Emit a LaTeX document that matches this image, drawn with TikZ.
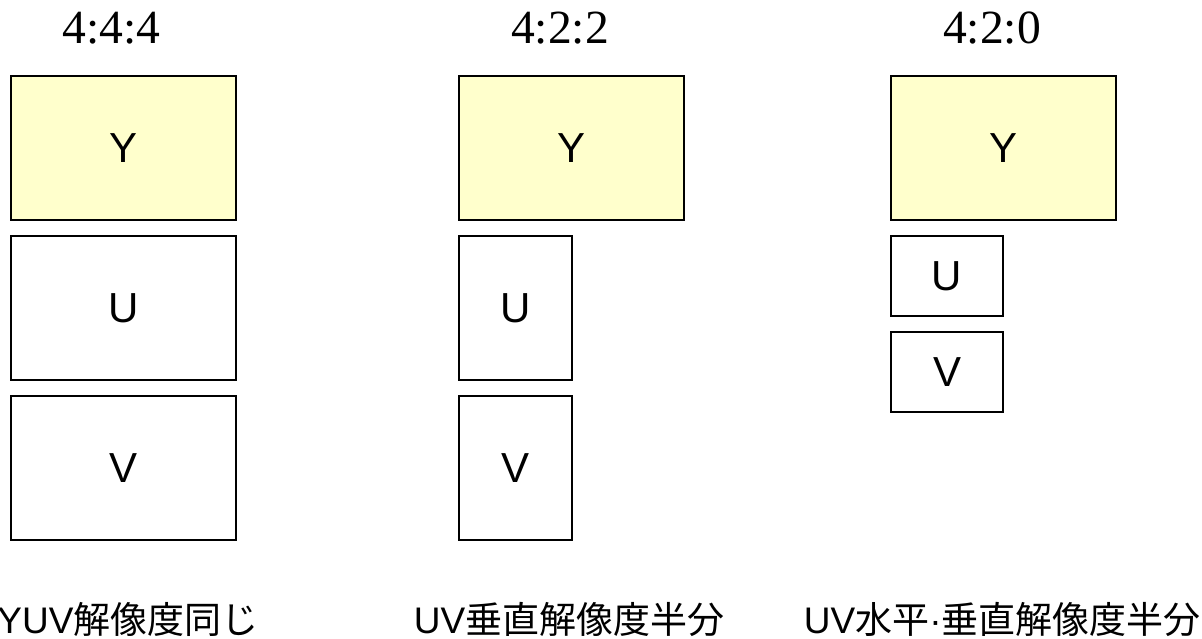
\documentclass[tikz,border=0pt]{standalone}
\usepackage{fontspec}
\setmainfont{Liberation Sans}
\newfontfamily\titlefont{Liberation Serif}
\newfontfamily\cjk{Noto Sans CJK JP}
\usetikzlibrary{positioning}

\definecolor{lumafill}{HTML}{FFFFCC}

\begin{document}
\begin{tikzpicture}[x=0.5pt, y=-0.5pt,
    plane/.style={draw=black, line width=1pt, inner sep=0pt, font=\fontsize{21}{25}\selectfont},
    luma/.style={plane, fill=lumafill},
    full/.style={minimum width=112.5pt, minimum height=72pt},
    halfw/.style={minimum width=56.25pt, minimum height=72pt},
    quarter/.style={minimum width=56pt, minimum height=40pt},
    ratio/.style={anchor=base, font=\titlefont\fontsize{23.8}{28}\selectfont},
    caption/.style={anchor=base, inner sep=0pt, font=\fontsize{18.5}{22}\selectfont}]
    \useasboundingbox (0,0) rectangle (1202,638);

    % 4:4:4
    \node[ratio] (t444) at (111.5,43) {4:4:4};
    \node[luma, full] (y444) at (123.5,148) {Y};
    \node[plane, full] (u444) at (123.5,308) {U};
    \node[plane, full] (v444) at (123.5,468) {V};
    \node[caption, anchor=base west] (c444) at (-3,633) {YUV{\cjk 解像度同じ}};

    % 4:2:2
    \node[ratio] (t422) at (560,43) {4:2:2};
    \node[luma, full] (y422) at (571.5,148) {Y};
    \node[plane, halfw] (u422) at (515.5,308) {U};
    \node[plane, halfw] (v422) at (515.5,468) {V};
    \node[caption] (c422) at (569,633) {UV{\cjk 垂直解像度半分}};

    % 4:2:0
    \node[ratio] (t420) at (992,43) {4:2:0};
    \node[luma, full] (y420) at (1003.5,148) {Y};
    \node[plane, quarter] (u420) at (947,276) {U};
    \node[plane, quarter] (v420) at (947,372) {V};
    \node[caption, anchor=base east] (c420) at (1201,633) {UV{\cjk 水平}·{\cjk 垂直解像度半分}};
\end{tikzpicture}
\end{document}
